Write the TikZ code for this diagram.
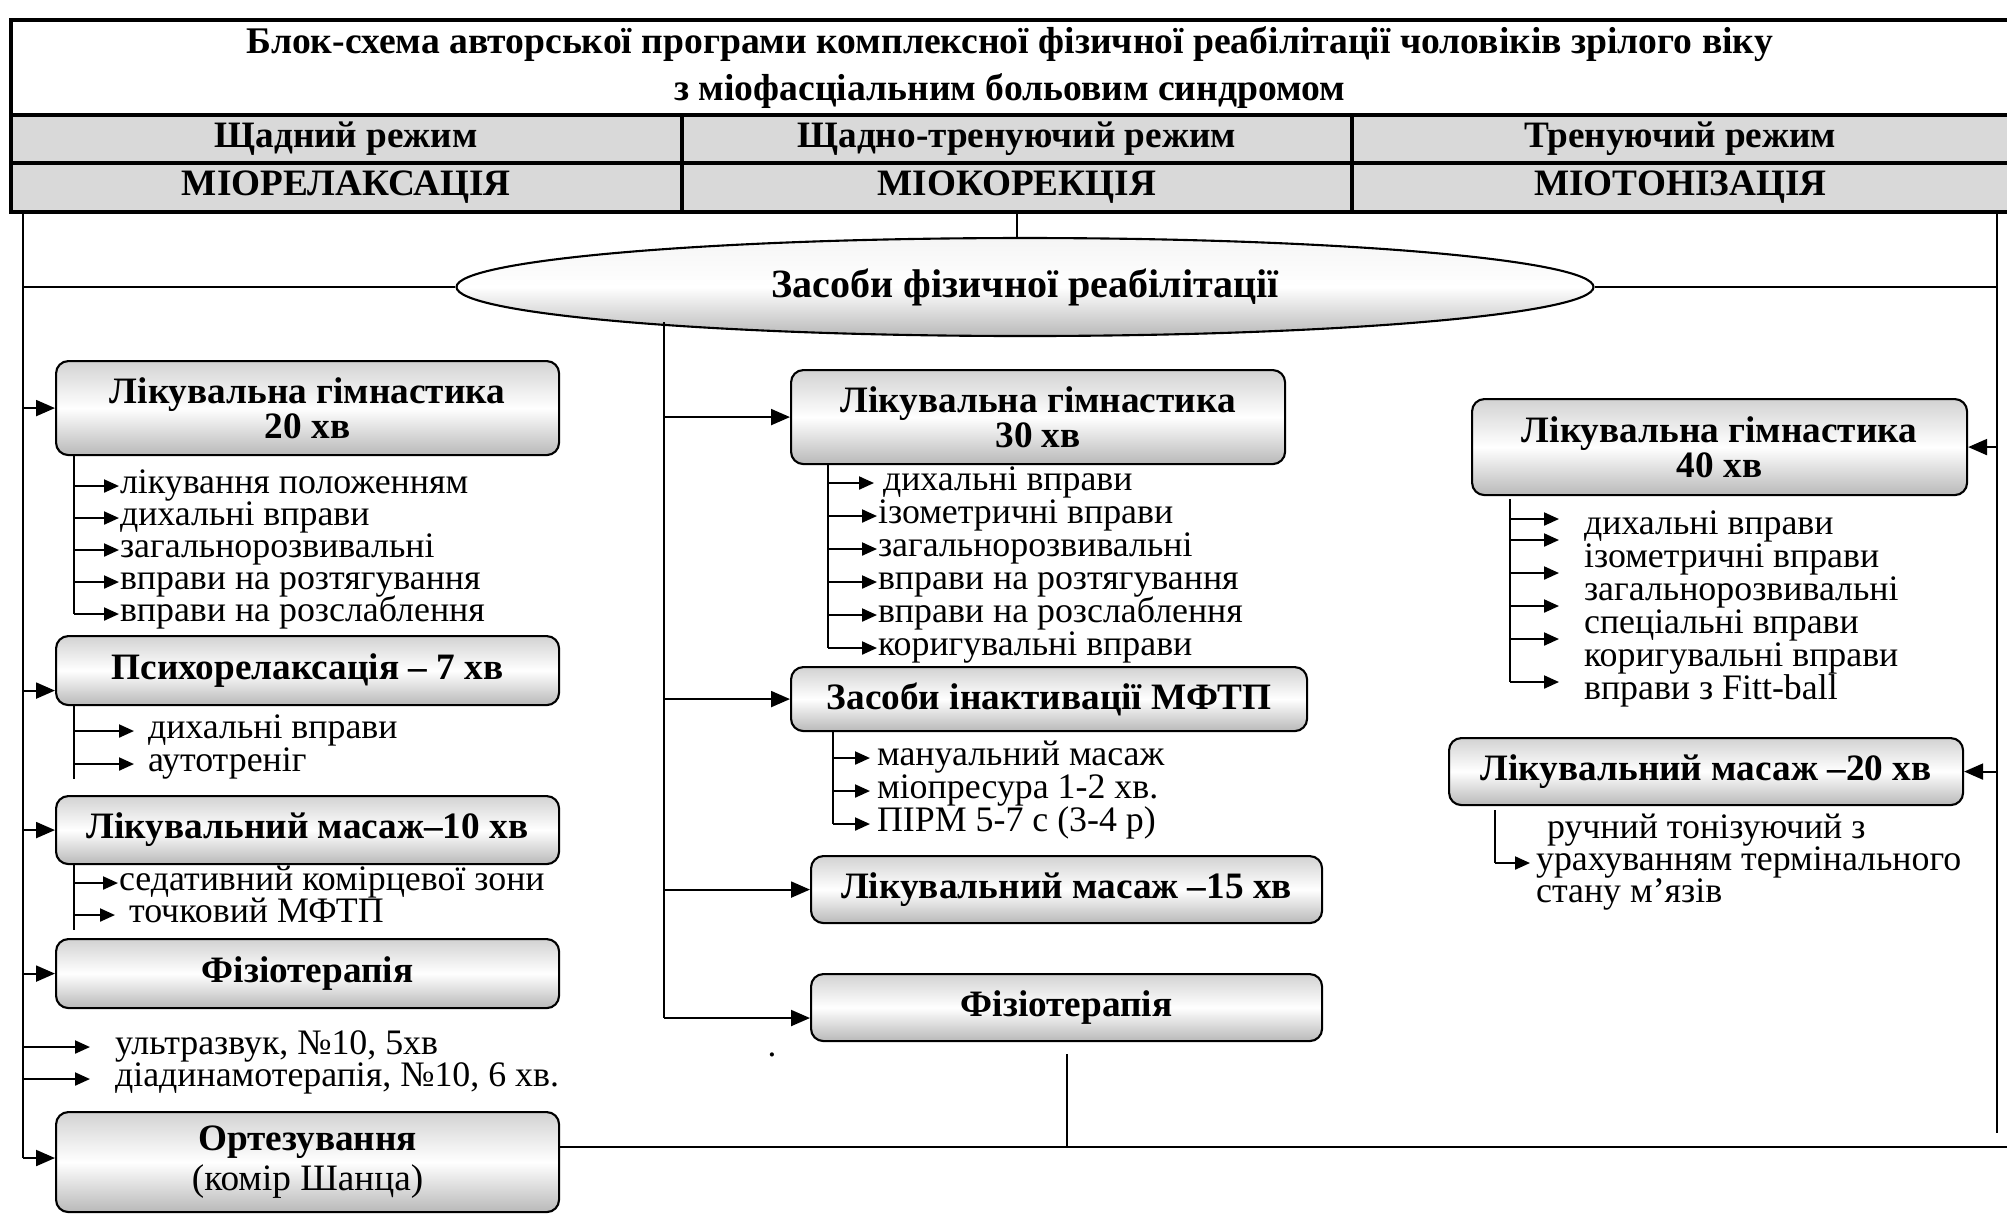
\documentclass[tikz,border=0pt]{standalone}
\usepackage{fontspec}
\setmainfont{Liberation Serif}
\usepackage{tikz}
\usetikzlibrary{shapes.geometric, arrows.meta}
\tikzstyle{headtitle} = [rectangle, draw=black, line width=1pt, fill=white, align=center, inner sep=0pt, font=\bfseries\fontsize{10.7}{13.5}\selectfont]
\tikzstyle{modecell} = [rectangle, draw=black, line width=1pt, fill=gray!30, inner sep=0pt, font=\bfseries\fontsize{10.6}{12}\selectfont]
\tikzstyle{oval} = [ellipse, draw=black, semithick, top color=gray!8, bottom color=gray!55, middle color=white, inner sep=0pt, font=\bfseries\fontsize{11.4}{12}\selectfont]
\tikzstyle{block} = [rectangle, rounded corners=3.5pt, draw=black, semithick, top color=gray!35, bottom color=gray!55, middle color=white, align=center, inner sep=1pt, font=\bfseries\fontsize{10.6}{10}\selectfont]
\tikzstyle{entry} = [anchor=west, inner sep=0.1pt, text height=6.2pt, text depth=1.8pt, font=\fontsize{10.2}{10}\selectfont]
\tikzstyle{conn} = [semithick]
\tikzstyle{arrow} = [semithick,-{Triangle[length=1.9mm,width=1.6mm]}]
\tikzstyle{subarrow} = [semithick,-{Triangle[length=1.5mm,width=1.3mm]}]

\begin{document}
\begin{tikzpicture}[node distance=2cm]
\useasboundingbox (0,0) rectangle (20.07,-12.14);

\node (title) [headtitle, anchor=north west, minimum width=19.98cm, minimum height=0.95cm] at (0.09,-0.18) {Блок-схема авторської програми комплексної фізичної реабілітації чоловіків зрілого віку\\з міофасціальним больовим синдромом};
\node (m1) [modecell, anchor=north west, minimum width=6.71cm, minimum height=0.48cm] at (0.09,-1.13) {Щадний режим};
\node (m2) [modecell, right of=m1, node distance=6.705cm, minimum width=6.70cm, minimum height=0.48cm] {Щадно-тренуючий режим};
\node (m3) [modecell, right of=m2, node distance=6.635cm, minimum width=6.57cm, minimum height=0.48cm] {Тренуючий режим};
\node (s1) [modecell, below of=m1, node distance=0.485cm, minimum width=6.71cm, minimum height=0.49cm] {МІОРЕЛАКСАЦІЯ};
\node (s2) [modecell, below of=m2, node distance=0.485cm, minimum width=6.70cm, minimum height=0.49cm] {МІОКОРЕКЦІЯ};
\node (s3) [modecell, below of=m3, node distance=0.485cm, minimum width=6.57cm, minimum height=0.49cm] {МІОТОНІЗАЦІЯ};

\node (means) [oval, minimum width=11.37cm, minimum height=0.98cm] at (10.25,-2.87) {Засоби фізичної реабілітації};

\coordinate (lt) at (0.23,-2.10);
\coordinate (lb) at (0.23,-11.58);
\coordinate (rt) at (19.97,-2.10);
\coordinate (rb) at (19.97,-11.33);
\coordinate (mb) at (6.64,-10.18);
\coordinate (be) at (20.07,-11.47);

\node (lg20) [block, anchor=north west, minimum width=5.03cm, minimum height=0.94cm] at (0.55,-3.60) {Лікувальна гімнастика\\20 хв};
\node (psy) [block, anchor=north west, minimum width=5.03cm, minimum height=0.69cm] at (0.55,-6.35) {Психорелаксація – 7 хв};
\node (mas10) [block, anchor=north west, minimum width=5.03cm, minimum height=0.68cm] at (0.55,-7.95) {Лікувальний масаж–10 хв};
\node (phys1) [block, anchor=north west, minimum width=5.03cm, minimum height=0.69cm] at (0.55,-9.38) {Фізіотерапія};
\node (ortez) [block, anchor=north west, minimum width=5.03cm, minimum height=1.00cm, font=\bfseries\fontsize{10.6}{11.6}\selectfont] at (0.55,-11.11) {Ортезування\\\mdseries (комір Шанца)};

\node (lg30) [block, anchor=north west, minimum width=4.94cm, minimum height=0.94cm] at (7.90,-3.69) {Лікувальна гімнастика\\30 хв};
\node (inact) [block, anchor=north west, minimum width=5.16cm, minimum height=0.64cm] at (7.90,-6.66) {Засоби інактивації МФТП};
\node (mas15) [block, anchor=north west, minimum width=5.11cm, minimum height=0.67cm] at (8.10,-8.55) {Лікувальний масаж –15 хв};
\node (phys2) [block, anchor=north west, minimum width=5.11cm, minimum height=0.67cm] at (8.10,-9.73) {Фізіотерапія};

\node (lg40) [block, anchor=north west, minimum width=4.95cm, minimum height=0.96cm] at (14.71,-3.98) {Лікувальна гімнастика\\40 хв};
\node (mas20) [block, anchor=north west, minimum width=5.14cm, minimum height=0.67cm] at (14.48,-7.37) {Лікувальний масаж –20 хв};

\node (a1) [entry] at (1.19,-4.86) {лікування положенням};
\node (a2) [entry] at (1.19,-5.18) {дихальні вправи};
\node (a3) [entry] at (1.19,-5.50) {загальнорозвивальні};
\node (a4) [entry] at (1.19,-5.82) {вправи на розтягування};
\node (a5) [entry] at (1.19,-6.14) {вправи на розслаблення};
\node (b1) [entry] at (1.47,-7.31) {дихальні вправи};
\node (b2) [entry] at (1.47,-7.64) {аутотреніг};
\node (c1) [entry] at (1.18,-8.83) {седативний комірцевої зони};
\node (c2) [entry] at (1.28,-9.15) {точковий МФТП};
\node (d1) [entry] at (1.14,-10.47) {ультразвук, №10, 5хв};
\node (d2) [entry] at (1.14,-10.79) {діадинамотерапія, №10, 6 хв.};

\node (f1) [entry] at (8.82,-4.83) {дихальні вправи};
\node (f2) [entry] at (8.77,-5.160) {ізометричні вправи};
\node (f3) [entry] at (8.77,-5.490) {загальнорозвивальні};
\node (f4) [entry] at (8.77,-5.820) {вправи на розтягування};
\node (f5) [entry] at (8.77,-6.150) {вправи на розслаблення};
\node (f6) [entry] at (8.77,-6.480) {коригувальні вправи};
\node (g1) [entry] at (8.76,-7.58) {мануальний масаж};
\node (g2) [entry] at (8.76,-7.91) {міопресура 1-2 хв.};
\node (g3) [entry] at (8.76,-8.24) {ПІРМ 5-7 с (3-4 р)};
\node (dot) at (7.72,-10.55) {.};

\node (h1) [entry] at (15.83,-5.27) {дихальні вправи};
\node (h2) [entry] at (15.83,-5.60) {ізометричні вправи};
\node (h3) [entry] at (15.83,-5.93) {загальнорозвивальні};
\node (h4) [entry] at (15.83,-6.26) {спеціальні вправи};
\node (h5) [entry] at (15.83,-6.59) {коригувальні вправи};
\node (h6) [entry] at (15.83,-6.92) {вправи з Fitt-ball};
\node (k1) [entry] at (15.46,-8.31) {ручний тонізуючий з};
\node (k2) [entry] at (15.35,-8.63) {урахуванням термінального};
\node (k3) [entry] at (15.35,-8.95) {стану м’язів};

\coordinate (t1) at (0.74,-4.54);
\coordinate (t2) at (0.74,-7.04);
\coordinate (t3) at (0.74,-8.63);
\coordinate (t4) at (8.28,-4.63);
\coordinate (t5) at (8.33,-7.30);
\coordinate (t6) at (15.10,-4.99);
\coordinate (t7) at (14.95,-8.10);

\draw [conn] (s2.south) -- (s2.south |- means.north);
\draw [conn] (means.west) -- (means.west -| lt);
\draw [conn] (means.east) -- (means.east -| rt);
\draw [conn] (lt) -- (lb);
\draw [conn] (rt) -- (rb);
\draw [conn] (mb |- means.185.9) -- (mb);
\draw [conn] (be -| ortez.east) -- (be);
\draw [conn] ([yshift=-1.2mm]phys2.south) -- (phys2.south |- be);

\draw [arrow] (lt |- lg20.west) -- (lg20.west);
\draw [arrow] ([yshift=-2mm]lt |- psy.west) -- ([yshift=-2mm]psy.west);
\draw [arrow] (lt |- mas10.west) -- (mas10.west);
\draw [arrow] (lt |- phys1.west) -- (phys1.west);
\draw [arrow] (lb) -- (lb -| ortez.west);
\draw [subarrow] (lt |- d1.west) -- ([xshift=-2.4mm]d1.west);
\draw [subarrow] (lt |- d2.west) -- ([xshift=-2.4mm]d2.west);

\draw [conn] (t1) -- (t1 |- a5.west);
\draw [subarrow] (t1 |- a1.west) -- (a1.west);
\draw [subarrow] (t1 |- a2.west) -- (a2.west);
\draw [subarrow] (t1 |- a3.west) -- (a3.west);
\draw [subarrow] (t1 |- a4.west) -- (a4.west);
\draw [subarrow] (t1 |- a5.west) -- (a5.west);

\draw [conn] (t2) -- ([yshift=-1.5mm]t2 |- b2.west);
\draw [subarrow] (t2 |- b1.west) -- ([xshift=-1.3mm]b1.west);
\draw [subarrow] (t2 |- b2.west) -- ([xshift=-1.3mm]b2.west);

\draw [conn] (t3) -- ([yshift=-1.5mm]t3 |- c2.west);
\draw [subarrow] (t3 |- c1.west) -- (c1.west);
\draw [subarrow] (t3 |- c2.west) -- ([xshift=-1.3mm]c2.west);

\draw [arrow] (mb |- lg30.west) -- (lg30.west);
\draw [arrow] (mb |- inact.west) -- (inact.west);
\draw [arrow] (mb |- mas15.west) -- (mas15.west);
\draw [arrow] (mb) -- (mb -| phys2.west);

\draw [conn] (t4) -- (t4 |- f6.west);
\draw [subarrow] (t4 |- f1.west) -- ([xshift=-0.8mm]f1.west);
\draw [subarrow] (t4 |- f2.west) -- (f2.west);
\draw [subarrow] (t4 |- f3.west) -- (f3.west);
\draw [subarrow] (t4 |- f4.west) -- (f4.west);
\draw [subarrow] (t4 |- f5.west) -- (f5.west);
\draw [subarrow] (t4 |- f6.west) -- (f6.west);

\draw [conn] (t5) -- (t5 |- g3.west);
\draw [subarrow] (t5 |- g1.west) -- ([xshift=-0.6mm]g1.west);
\draw [subarrow] (t5 |- g2.west) -- ([xshift=-0.6mm]g2.west);
\draw [subarrow] (t5 |- g3.west) -- ([xshift=-0.6mm]g3.west);

\draw [arrow] (rt |- lg40.east) -- (lg40.east);
\draw [arrow] (rt |- mas20.east) -- (mas20.east);

\draw [conn] (t6) -- ([yshift=1mm]t6 |- h6.west);
\draw [subarrow] ([yshift=0.8mm]t6 |- h1.west) -- ([xshift=-2.4mm,yshift=0.8mm]h1.west);
\draw [subarrow] ([yshift=2mm]t6 |- h2.west) -- ([xshift=-2.4mm,yshift=2mm]h2.west);
\draw [subarrow] ([yshift=2mm]t6 |- h3.west) -- ([xshift=-2.4mm,yshift=2mm]h3.west);
\draw [subarrow] ([yshift=2mm]t6 |- h4.west) -- ([xshift=-2.4mm,yshift=2mm]h4.west);
\draw [subarrow] ([yshift=2mm]t6 |- h5.west) -- ([xshift=-2.4mm,yshift=2mm]h5.west);
\draw [subarrow] ([yshift=1mm]t6 |- h6.west) -- ([xshift=-2.4mm,yshift=1mm]h6.west);

\draw [conn] (t7) -- (t7 |- k2.west);
\draw [subarrow] (t7 |- k2.west) -- ([xshift=-0.5mm]k2.west);
\end{tikzpicture}
\end{document}
